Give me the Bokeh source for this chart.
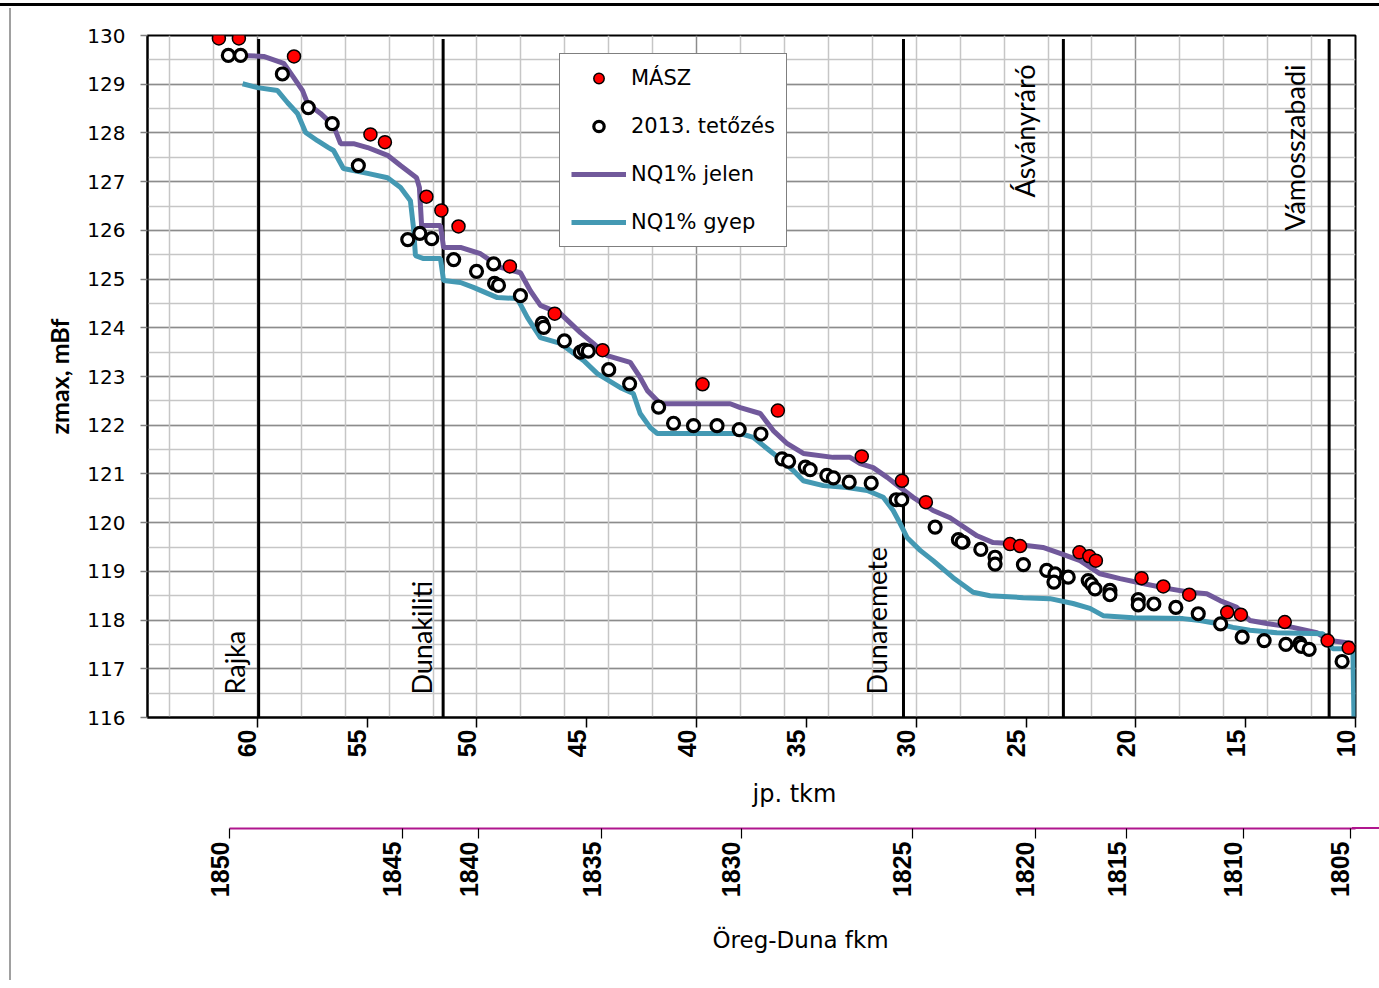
from math import pi
from bokeh.plotting import figure
from bokeh.models import (Range1d, LinearAxis, FixedTicker, SingleIntervalTicker,
                          Grid, Legend, LegendItem, Title, InlineStyleSheet)
from bokeh.core.properties import value
from bokeh.embed import file_html
from bokeh.resources import INLINE

# ---------------- data ----------------
jelen_tkm = [60.76, 59.71, 58.80, 58.35, 57.94, 57.71, 57.12, 56.53, 56.21, 55.62, 54.98, 54.07,
             53.48, 52.75, 52.62, 52.52, 51.66, 51.52, 50.75, 49.84, 48.93, 48.02, 47.57, 47.11,
             46.20, 45.29, 44.70, 44.07, 43.02, 42.57, 42.24, 41.65, 38.47, 38.01, 37.10, 36.51,
             35.87, 35.14, 33.78, 33.01, 32.55, 31.96, 31.32, 30.73, 30.14, 29.23, 28.46, 27.23,
             26.50, 25.73, 24.23, 23.45, 22.54, 21.63, 20.72, 19.68, 18.59, 17.54, 16.77, 16.17,
             15.40, 14.81, 14.04, 12.85, 11.76, 11.17, 10.12]
jelen_z = [129.59, 129.57, 129.43, 129.14, 128.87, 128.60, 128.40, 128.15, 127.78, 127.78, 127.70,
           127.54, 127.33, 127.08, 126.88, 126.10, 126.10, 125.65, 125.65, 125.52, 125.24, 125.13,
           124.76, 124.46, 124.29, 123.90, 123.68, 123.43, 123.29, 122.98, 122.71, 122.44, 122.44,
           122.36, 122.24, 121.89, 121.62, 121.42, 121.34, 121.34, 121.21, 121.13, 120.93, 120.72,
           120.52, 120.25, 120.10, 119.73, 119.59, 119.57, 119.49, 119.37, 119.22, 118.95, 118.85,
           118.75, 118.65, 118.57, 118.54, 118.40, 118.26, 117.99, 117.93, 117.85, 117.74, 117.58,
           117.52]

gyep_tkm = [60.67, 59.99, 59.08, 58.62, 58.17, 57.80, 57.26, 56.76, 56.53, 56.08, 55.62, 54.98,
            54.07, 53.48, 53.03, 52.89, 52.80, 52.43, 51.66, 51.52, 50.75, 50.16, 49.07, 48.16,
            47.70, 47.11, 46.20, 45.15, 44.52, 43.47, 42.88, 42.57, 42.11, 41.79, 38.01, 37.42,
            36.51, 35.60, 35.14, 34.23, 33.14, 32.23, 31.50, 31.05, 30.73, 30.41, 29.82, 29.23,
            28.32, 27.41, 26.64, 25.13, 23.91, 22.86, 22.09, 21.49, 20.13, 17.85, 17.08, 16.31,
            15.58, 14.81, 13.58, 11.49, 11.03, 10.12, 10.07]
gyep_z = [129.01, 128.93, 128.87, 128.62, 128.40, 128.01, 127.84, 127.70, 127.64, 127.27, 127.23,
          127.17, 127.08, 126.88, 126.61, 126.06, 125.48, 125.42, 125.42, 124.97, 124.93, 124.83,
          124.62, 124.60, 124.21, 123.80, 123.68, 123.33, 123.06, 122.77, 122.65, 122.24, 121.95,
          121.83, 121.83, 121.75, 121.42, 121.07, 120.86, 120.76, 120.72, 120.66, 120.52, 120.25,
          119.98, 119.69, 119.43, 119.22, 118.87, 118.57, 118.50, 118.46, 118.44, 118.34, 118.24,
          118.09, 118.05, 118.03, 117.99, 117.93, 117.85, 117.79, 117.74, 117.72, 117.41, 117.41,
          116.00]

masz_tkm = [61.75, 60.84, 58.33, 54.85, 54.19, 52.30, 51.62, 50.84, 48.50, 46.46, 44.28, 39.73,
            36.30, 32.48, 30.65, 29.56, 27.85, 25.73, 25.27, 22.57, 22.12, 21.82, 19.74, 18.75,
            17.57, 15.84, 15.22, 13.22, 11.27, 10.31]
masz_z = [129.94, 129.94, 129.57, 127.97, 127.81, 126.69, 126.41, 126.08, 125.26, 124.29, 123.54,
          122.84, 122.30, 121.36, 120.86, 120.42, 119.60, 119.56, 119.52, 119.39, 119.31, 119.22,
          118.86, 118.69, 118.52, 118.16, 118.11, 117.96, 117.58, 117.43]

t2013_tkm = [61.32, 60.76, 58.86, 57.68, 56.59, 55.40, 53.15, 52.60, 52.06, 51.06, 50.02, 49.24,
             49.20, 49.02, 48.02, 47.03, 46.96, 46.02, 45.29, 45.11, 44.93, 44.00, 43.05, 41.73,
             41.05, 40.14, 39.07, 38.06, 37.07, 36.11, 35.81, 35.05, 34.83, 34.07, 33.77, 33.05,
             32.05, 30.91, 30.66, 29.14, 28.08, 27.91, 27.06, 26.41, 26.41, 25.12, 24.06, 23.68,
             23.73, 23.08, 22.17, 22.02, 21.86, 21.18, 21.18, 19.89, 19.89, 19.18, 18.18, 17.16,
             16.14, 15.16, 14.16, 13.17, 12.53, 12.46, 12.11, 10.61]
t2013_z = [129.59, 129.59, 129.21, 128.52, 128.19, 127.33, 125.81, 125.94, 125.83, 125.40, 125.16,
           125.31, 124.91, 124.87, 124.66, 124.09, 124.01, 123.73, 123.50, 123.54, 123.52, 123.14,
           122.85, 122.37, 122.04, 121.99, 121.99, 121.91, 121.82, 121.31, 121.26, 121.14, 121.09,
           120.97, 120.92, 120.83, 120.81, 120.47, 120.47, 119.91, 119.65, 119.60, 119.45, 119.29,
           119.15, 119.14, 119.02, 118.95, 118.78, 118.88, 118.81, 118.74, 118.64, 118.61, 118.52,
           118.42, 118.31, 118.33, 118.26, 118.13, 117.92, 117.65, 117.58, 117.50, 117.52, 117.46,
           117.40, 117.15]

station_names = ["Rajka", "Dunakiliti", "Dunaremete", "Ásványráró", "Vámosszabadi"]
station_tkm = [59.94, 51.54, 30.58, 23.30, 11.20]
station_label_top = [False, False, False, True, True]

tkm_ticks = [60, 55, 50, 45, 40, 35, 30, 25, 20, 15, 10]
fkm_labels = [1850, 1845, 1840, 1835, 1830, 1825, 1820, 1815, 1810, 1805]
fkm_at_tkm = [61.26, 53.40, 49.92, 44.32, 37.97, 30.17, 24.58, 20.42, 15.10, 10.25]

# ---------------- styles / layout ----------------
X_START, X_END = 65, 10
Y_START, Y_END = 116, 130
FRAME_W, FRAME_H = 1208, 682
PX_PER_UNIT = FRAME_W / (X_START - X_END)
LABEL_SHIFT = 10 / PX_PER_UNIT          # rotated tick labels sit left of their tick
PURPLE = "#71599B"
TEAL = "#4499B3"
MAGENTA = "#B0168E"
LABEL_FONT = "Liberation Sans"
TEXT_FONT = "DejaVu Sans"

# station label placement in screen pixels (style): left of the line, from bottom / top
station_dx_px = [-24, -22, -27, -39, -35]
station_dy_bottom = -23
station_dy_top = 29

# page frame lines (thin black rule on top, grey rule on the left) as CSS background
deco = InlineStyleSheet(css=""":host {
  background:
    linear-gradient(#000000, #000000) 0px 3px / 100% 3px no-repeat,
    linear-gradient(#a0a0a0, #a0a0a0) 9px 8px / 2px 100% no-repeat,
    linear-gradient(#B0168E, #B0168E) 1352px 827px / 40px 2px no-repeat,
    #ffffff;
}""")

p = figure(frame_width=FRAME_W, frame_height=FRAME_H,
           x_range=Range1d(X_START, X_END), y_range=Range1d(Y_START, Y_END),
           output_backend="svg", toolbar_location=None,
           min_border_left=147, min_border_right=24, min_border_top=35, min_border_bottom=0,
           background_fill_color="white", border_fill_color=None,
           outline_line_color="black", outline_line_width=2)
p.stylesheets = [deco]

# ----- grids -----
yt = SingleIntervalTicker(interval=1, num_minor_ticks=2)
yax = p.yaxis[0]
yax.ticker = yt
p.ygrid[0].ticker = yt
p.ygrid.grid_line_color = "#8c8c8c"
p.ygrid.grid_line_width = 1.5
p.ygrid.minor_grid_line_color = "#c6c6c6"
p.ygrid.minor_grid_line_width = 1.5

p.xgrid[0].ticker = FixedTicker(ticks=[20, 40, 60])
p.xgrid.grid_line_color = "#8c8c8c"
p.xgrid.grid_line_width = 1.5
light_x = Grid(dimension=0, ticker=FixedTicker(ticks=[t for t in range(12, 65, 2) if t % 20]),
               grid_line_color="#c6c6c6", grid_line_width=1.5)
p.add_layout(light_x)

# ----- y axis -----
yax.axis_label = "zmax, mBf"
yax.axis_label_text_font = "Lato"
yax.axis_label_text_font_style = "bold"
yax.axis_label_text_font_size = "25px"
yax.axis_label_text_color = "black"
yax.axis_label_standoff = 10
yax.major_label_text_font = TEXT_FONT
yax.major_label_text_font_size = "20px"
yax.major_label_text_color = "black"
yax.major_label_standoff = 15
yax.major_tick_out = 7
yax.major_tick_in = 0
yax.major_tick_line_color = "#7f7f7f"
yax.major_tick_line_width = 1.5
yax.minor_tick_out = 0
yax.minor_tick_in = 0
yax.axis_line_color = "black"
yax.axis_line_width = 2

# ----- station lines -----
p.segment(x0=station_tkm, y0=Y_START, x1=station_tkm, y1=Y_END - 0.07,
          line_color="black", line_width=3)

# ----- series -----
r_jelen = p.line(jelen_tkm, jelen_z, line_color=PURPLE, line_width=5)
r_gyep = p.line(gyep_tkm, gyep_z, line_color=TEAL, line_width=5)
r_masz = p.scatter(masz_tkm, masz_z, size=13, fill_color="#FF0000",
                   line_color="black", line_width=1.5)
r_2013 = p.scatter(t2013_tkm, t2013_z, size=12, fill_color="white",
                   line_color="black", line_width=3.2)

# ----- station labels (anchored left of each line, pixel gap converted to km) -----
for km, name, at_top, dx in zip(station_tkm, station_names, station_label_top, station_dx_px):
    p.text(x=[km - dx / PX_PER_UNIT], y=[Y_END if at_top else Y_START], text=[name],
           angle=pi / 2, text_align="right" if at_top else "left",
           text_baseline="alphabetic",
           y_offset=station_dy_top if at_top else station_dy_bottom,
           text_font=value("Lato"), text_font_size="27px", text_color="black")

# ----- legend -----
legend = Legend(items=[LegendItem(label="MÁSZ", renderers=[r_masz]),
                       LegendItem(label="2013. tetőzés", renderers=[r_2013]),
                       LegendItem(label="NQ1% jelen", renderers=[r_jelen]),
                       LegendItem(label="NQ1% gyep", renderers=[r_gyep])],
                location=(412, 470), orientation="vertical",
                border_line_color="black", border_line_width=1.5,
                background_fill_color="white", background_fill_alpha=1.0,
                padding=11, spacing=22, margin=0,
                glyph_width=55, glyph_height=26, label_height=26, label_standoff=5,
                label_text_font=TEXT_FONT, label_text_font_size="21px",
                label_text_color="black")
p.add_layout(legend)

# ----- bottom axes -----
p.extra_x_ranges = {"lbl": Range1d(X_START - LABEL_SHIFT, X_END - LABEL_SHIFT)}

ax_a = p.xaxis[0]
ax_a.ticker = FixedTicker(ticks=tkm_ticks)
ax_a.major_label_overrides = {t: "" for t in tkm_ticks}
ax_a.major_label_text_font_size = "1px"
ax_a.major_label_standoff = 0
ax_a.major_tick_out = 10
ax_a.major_tick_in = 0
ax_a.major_tick_line_color = "black"
ax_a.major_tick_line_width = 1.5
ax_a.minor_tick_out = 0
ax_a.minor_tick_in = 0
ax_a.axis_line_color = "black"
ax_a.axis_line_width = 2

ax_b = LinearAxis(x_range_name="lbl", ticker=FixedTicker(ticks=tkm_ticks),
                  axis_line_color=None, major_tick_line_color=None, minor_tick_line_color=None,
                  major_tick_out=0, major_tick_in=0, minor_tick_out=0, minor_tick_in=0,
                  major_label_orientation=pi / 2, major_label_standoff=2,
                  major_label_text_font=LABEL_FONT, major_label_text_font_size="25px",
                  major_label_text_font_style="bold", major_label_text_color="black")
p.add_layout(ax_b, "below")

t1 = Title(text="jp. tkm", align="left", offset=605, standoff=38, vertical_align="top",
           text_font=TEXT_FONT, text_font_size="24px", text_font_style="normal",
           text_color="black")
p.add_layout(t1, "below")

ax_c = LinearAxis(ticker=FixedTicker(ticks=fkm_at_tkm), bounds=(8.95, fkm_at_tkm[0]),
                  axis_line_color=MAGENTA, axis_line_width=2,
                  major_tick_out=10, major_tick_in=0, major_tick_line_color="black",
                  major_tick_line_width=1.2, minor_tick_out=0, minor_tick_in=0,
                  major_label_overrides={t: "" for t in fkm_at_tkm},
                  major_label_text_font_size="1px", major_label_standoff=0)
p.add_layout(ax_c, "below")

ax_d = LinearAxis(x_range_name="lbl", ticker=FixedTicker(ticks=fkm_at_tkm),
                  major_label_overrides={t: str(l) for t, l in zip(fkm_at_tkm, fkm_labels)},
                  axis_line_color=None, major_tick_line_color=None, minor_tick_line_color=None,
                  major_tick_out=0, major_tick_in=0, minor_tick_out=0, minor_tick_in=0,
                  major_label_orientation=pi / 2, major_label_standoff=3,
                  major_label_text_font=LABEL_FONT, major_label_text_font_size="25px",
                  major_label_text_font_style="bold", major_label_text_color="black")
p.add_layout(ax_d, "below")

t2 = Title(text="Öreg-Duna fkm", align="left", offset=565, standoff=52, vertical_align="top",
           text_font=TEXT_FONT, text_font_size="23px", text_font_style="normal",
           text_color="black")
p.add_layout(t2, "below")

open("out.html", "w").write(file_html(p, INLINE))
